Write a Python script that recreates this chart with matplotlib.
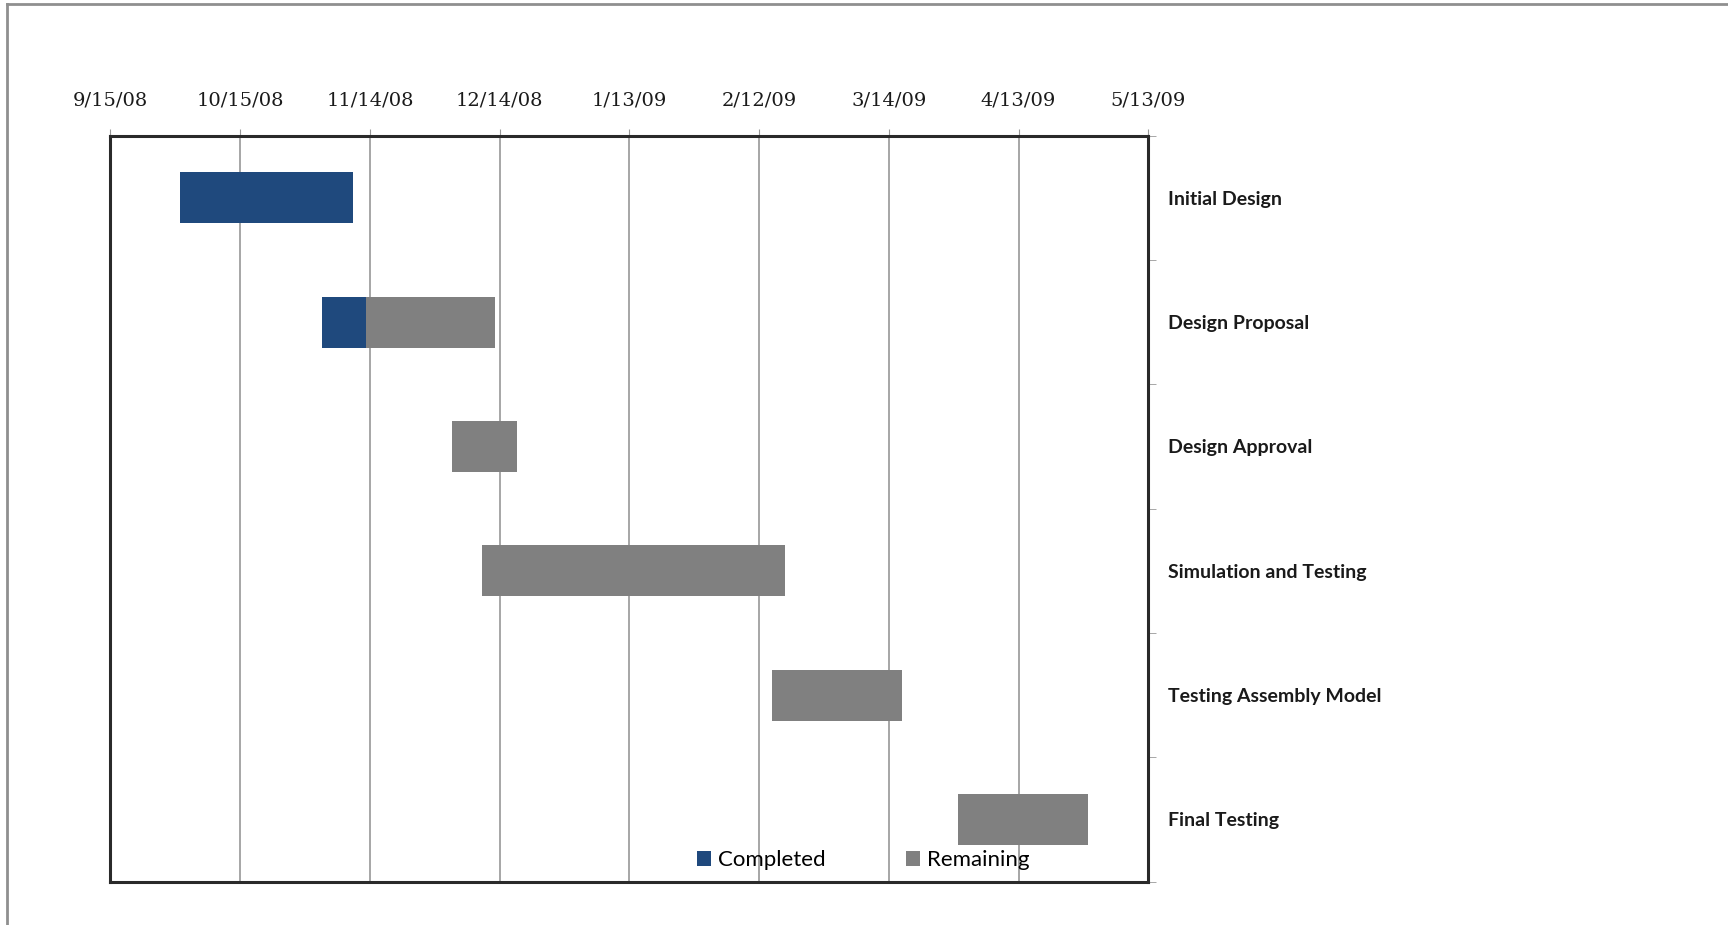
import datetime as dt
import matplotlib
matplotlib.use("Agg")
import matplotlib.pyplot as plt
import matplotlib.dates as mdates
from matplotlib.lines import Line2D
from matplotlib.patches import Patch

# task data
tasks = ["Initial Design", "Design Proposal", "Design Approval",
         "Simulation and Testing", "Testing Assembly Model", "Final Testing"]
starts = ["2008-10-01", "2008-11-03", "2008-12-03",
          "2008-12-10", "2009-02-15", "2009-03-30"]
completed_days = [40, 10, 0, 0, 0, 0]
remaining_days = [0, 30, 15, 70, 30, 30]

axis_start = dt.date(2008, 9, 15)
axis_end = dt.date(2009, 5, 13)
tick_step_days = 30

COL_DONE = "#1F497D"
COL_LEFT = "#808080"

fig = plt.figure(figsize=(17.28, 9.25), dpi=100)
ax = fig.add_axes([0.0639, 0.0469, 0.6006, 0.8065])

start_dates = [dt.datetime.strptime(s, "%Y-%m-%d").date() for s in starts]
ypos = list(range(len(tasks)))
bar_h = 0.41

for y, s, c, r in zip(ypos, start_dates, completed_days, remaining_days):
    x0 = mdates.date2num(s)
    if c > 0:
        ax.barh(y, c, left=x0, height=bar_h, color=COL_DONE, zorder=3)
    if r > 0:
        ax.barh(y, r, left=x0 + c, height=bar_h, color=COL_LEFT, zorder=3)

ax.set_xlim(mdates.date2num(axis_start), mdates.date2num(axis_end))
ax.set_ylim(len(tasks) - 0.5, -0.5)

# date ticks on top, every 30 days
ticks = []
d = axis_start
while d <= axis_end:
    ticks.append(d)
    d += dt.timedelta(days=tick_step_days)
ax.set_xticks([mdates.date2num(t) for t in ticks])
ax.set_xticklabels([f"{t.month}/{t.day}/{t:%y}" for t in ticks],
                   fontsize=14, family="DejaVu Serif", color="#1a1a1a")
ax.xaxis.tick_top()
ax.tick_params(axis="x", which="major", direction="out", length=5,
               color="#999999", pad=13.5)
ax.grid(axis="x", color="#a6a6a6", linewidth=1.4, zorder=0)

# category labels on right
ax.yaxis.tick_right()
ax.set_yticks(ypos)
ax.set_yticklabels(tasks, fontsize=14, family="Lato", fontweight="bold",
                   color="#1a1a1a", ha="left")
ax.tick_params(axis="y", which="major", length=0, pad=14.5)
ax.set_yticks([y + 0.5 for y in ypos[:-1]] + [-0.5, len(tasks) - 0.5], minor=True)
ax.tick_params(axis="y", which="minor", direction="out", length=6,
               color="#999999", right=True, left=False)

for sp in ax.spines.values():
    sp.set_color("#2a2a2a")
    sp.set_linewidth(2.2)

handles = [Patch(facecolor=COL_DONE, label="Completed"),
           Patch(facecolor=COL_LEFT, label="Remaining")]
fig.legend(handles=handles, loc="center", bbox_to_anchor=(0.4995, 0.0703),
           ncol=2, frameon=False, handlelength=0.65, handleheight=0.65,
           handletextpad=0.3, columnspacing=3.6,
           prop={"family": "Lato", "size": 16})

# gray frame lines at top and left of the image
fig.add_artist(Line2D([0.004, 1.0], [0.9957, 0.9957], color="#8f8f8f", linewidth=2))
fig.add_artist(Line2D([0.004, 0.004], [0.0, 0.9957], color="#8f8f8f", linewidth=2))

fig.savefig("out.png", dpi=100, facecolor="white")
